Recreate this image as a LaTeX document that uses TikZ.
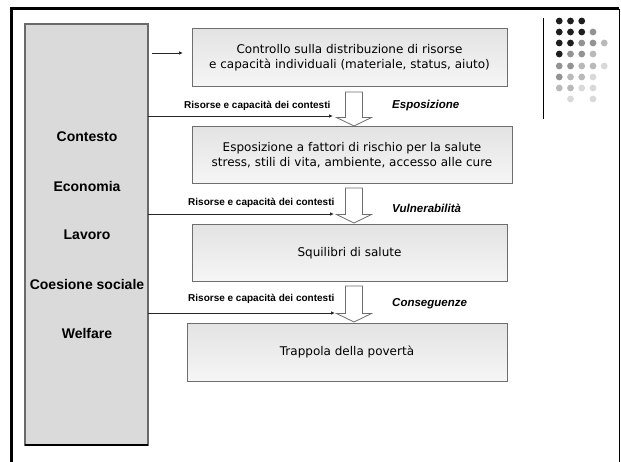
\documentclass[tikz,border=0pt]{standalone}
\usepackage{fontspec}
\setmainfont{DejaVu Sans}
\newfontfamily\labfont{Liberation Sans}
\usetikzlibrary{arrows.meta,calc}
\definecolor{dotA}{HTML}{1E1E1E}
\definecolor{dotB}{HTML}{939393}
\definecolor{dotC}{HTML}{B9B9B9}
\definecolor{dotD}{HTML}{D9D9D9}
\definecolor{boxedge}{HTML}{6E6E6E}
\definecolor{boxtop}{HTML}{E3E3E3}
\definecolor{boxbot}{HTML}{F6F6F6}
\definecolor{panelfill}{HTML}{DADADA}
\definecolor{paneledge}{HTML}{6A6A6A}
\tikzset{
  flowbox/.style={draw=boxedge, line width=1pt, top color=boxtop, bottom color=boxbot,
    rectangle, inner sep=0pt, outer sep=0pt, align=center,
    font=\fontsize{12}{15}\selectfont},
  sidelabel/.style={font=\labfont\bfseries\fontsize{14}{16}\selectfont, inner sep=0pt},
  reslabel/.style={font=\labfont\bfseries\fontsize{10}{12}\selectfont, inner sep=0pt, anchor=west},
  phaselabel/.style={font=\labfont\bfseries\itshape\fontsize{11.5}{13}\selectfont, inner sep=0pt, anchor=west},
  thinarr/.style={draw=black!85, line width=0.8pt, -{Latex[length=4pt,width=3.5pt]}},
  blockarr/.style={draw=boxedge, line width=0.8pt, fill=white},
  dotstyle/.style={circle, inner sep=0pt, minimum size=6.8pt},
}
\begin{document}
\begin{tikzpicture}[x=1pt,y=-1pt]
\useasboundingbox (0,0) rectangle (621,462);
\fill[white] (0,0) rectangle (621,462);
% outer frame
\draw[line width=3pt, black] (11,463) -- (11,9) -- (619,9);
\draw[line width=1pt, black] (619,9) -- (619,463);
% left panel
\node[draw=paneledge, line width=1.5pt, fill=panelfill, inner sep=0pt, outer sep=0pt,
      minimum width=123pt, minimum height=421pt] (panel) at (86.5,234.5) {};
\draw[line width=2pt, black] (panel.south west) -- (panel.south east);
\node[sidelabel] (contesto) at (87,137) {Contesto};
\node[sidelabel] (economia) at (87,186) {Economia};
\node[sidelabel] (lavoro) at (87,235) {Lavoro};
\node[sidelabel] (coesione) at (87,284) {Coesione sociale};
\node[sidelabel] (welfare) at (87,333) {Welfare};
% boxes
\node[flowbox, minimum width=315pt, minimum height=58pt] (b1) at (349.5,58)
  {Controllo sulla distribuzione di risorse\\e capacità individuali (materiale, status, aiuto)};
\node[flowbox, minimum width=320pt, minimum height=57pt] (b2) at (352,155.5)
  {Esposizione a fattori di rischio per la salute\\stress, stili di vita, ambiente, accesso alle cure};
\node[flowbox, minimum width=315pt, minimum height=57pt] (b3) at (349.5,253.5)
  {Squilibri di salute};
\node[flowbox, minimum width=320pt, minimum height=58pt] (b4) at (347,352)
  {Trappola della povertà};
% top small arrow
\coordinate (s0) at (152,53);
\coordinate (e0) at (183,53);
\draw[thinarr] (s0) -- (e0);
% block arrows
\coordinate (ax) at (354,0);
\coordinate (t1) at ($(b1.south -| ax)+(0,5)$);
\coordinate (p1) at ($(b2.north -| ax)+(0,-1)$);
\coordinate (t2) at ($(b2.south -| ax)+(0,4)$);
\coordinate (p2) at ($(b3.north -| ax)+(0,-2)$);
\coordinate (t3) at ($(b3.south -| ax)+(0,4)$);
\coordinate (p3) at ($(b4.north -| ax)+(0,-1)$);
\foreach \t/\p in {t1/p1,t2/p2,t3/p3}{
  \draw[blockarr] ($(\t)+(-8.5,0)$) -- ($(\t)+(8.5,0)$) -- ($(\p)+(8.5,-8.5)$)
    -- ($(\p)+(17.5,-8.5)$) -- (\p) -- ($(\p)+(-17.5,-8.5)$) -- ($(\p)+(-8.5,-8.5)$) -- cycle;
}
% thin arrows from panel
\coordinate (e1) at (333,116);
\coordinate (e2) at (334,214);
\coordinate (e3) at (335,313);
\draw[thinarr] (panel.east |- e1) -- (e1);
\draw[thinarr] (panel.east |- e2) -- (e2);
\draw[thinarr] (panel.east |- e3) -- (e3);
\node[reslabel] (r1) at (184,106) {Risorse e capacità dei contesti};
\node[reslabel] (r2) at (188,203) {Risorse e capacità dei contesti};
\node[reslabel] (r3) at (188,299) {Risorse e capacità dei contesti};
\node[phaselabel] (ph1) at (392,106) {Esposizione};
\node[phaselabel] (ph2) at (392,208) {Vulnerabilità};
\node[phaselabel] (ph3) at (392,304) {Conseguenze};
% decoration: line and dots
\draw[line width=1pt, black] (543,18) -- (543,119);
\foreach \row/\y/\cols in {
  1/21/{1/dotA,2/dotA,3/dotA},
  2/32/{1/dotA,2/dotA,3/dotA,4/dotB},
  3/43/{1/dotA,2/dotA,3/dotB,4/dotB,5/dotC},
  4/54/{1/dotA,2/dotB,3/dotB,4/dotC},
  5/66/{1/dotB,2/dotB,3/dotC,4/dotC,5/dotD},
  6/77/{1/dotB,2/dotC,3/dotC,4/dotD},
  7/88/{1/dotC,2/dotC,3/dotD,4/dotD},
  8/99/{2/dotD,4/dotD}}{
  \foreach \c/\col in \cols {
    \pgfmathsetmacro{\xx}{548+11.25*\c}
    \node[dotstyle, fill=\col] (dot-\row-\c) at (\xx,\y) {};
  }
}
\end{tikzpicture}
\end{document}
